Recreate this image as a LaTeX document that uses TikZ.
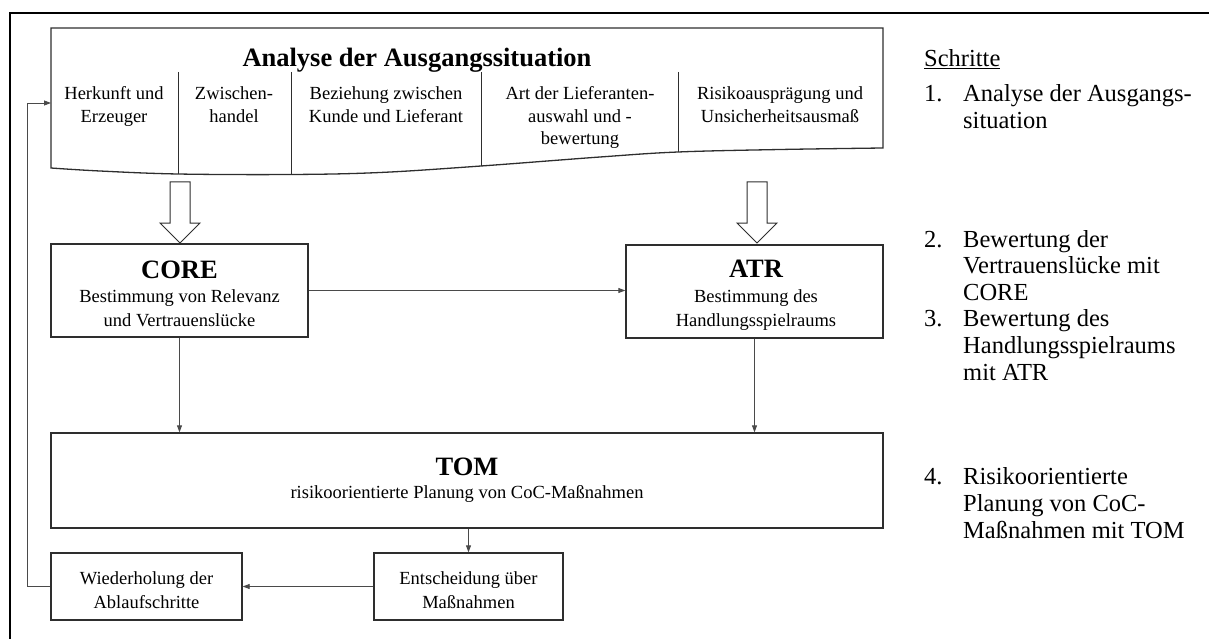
\documentclass[tikz,border=0pt]{standalone}
\usepackage{fontspec}
\setmainfont{Liberation Serif}
\usetikzlibrary{arrows.meta}
\definecolor{boxgray}{HTML}{2E2E2E}
\definecolor{linegray}{HTML}{4A4A4A}
\begin{document}
\begin{tikzpicture}[x=1pt,y=-1pt,
  box/.style={draw=boxgray, line width=1.3pt, fill=white, inner sep=0pt},
  docline/.style={draw=boxgray, line width=1.3pt},
  divider/.style={draw=boxgray, line width=1pt},
  link/.style={draw=linegray, line width=0.8pt, -{Triangle[length=7pt,width=5pt]}},
  blockarrow/.style={draw=boxgray, line width=1pt, fill=white},
  ttl/.style={font=\fontsize{26.5}{30}\selectfont\bfseries, inner sep=0pt, anchor=base},
  sub/.style={font=\fontsize{18.5}{22.5}\selectfont, inner sep=0pt, anchor=base},
  stepnum/.style={font=\fontsize{24.5}{27}\selectfont, inner sep=0pt, anchor=base west},
]
\useasboundingbox (0,0) rectangle (1209,639);

% outer frame
\draw[line width=2.5pt] (10,645) -- (10,13) -- (1215,13);

% document shape: analysis of the initial situation
\draw[docline] (51,168) -- (51,28) -- (883,28) --
  plot[smooth, tension=0.6] coordinates {(883,148) (780,149.5) (678,152) (600,157)
    (481,166) (380,172.5) (291,174.5) (178,174) (100,171) (51,168)} -- cycle;
\coordinate (docw) at (51,103);
\draw[divider] (178,72) -- (178,174);
\draw[divider] (291,72) -- (291,174.5);
\draw[divider] (481,72) -- (481,166);
\draw[divider] (678,72) -- (678,152);

\node[ttl] (t0) at (417,67) {Analyse der Ausgangssituation};
\node[sub] (c1a) at (114,100) {Herkunft und};
\node[sub] (c1b) at (114,122.5) {Erzeuger};
\node[sub] (c2a) at (234,100) {Zwischen-};
\node[sub] (c2b) at (234,122.5) {handel};
\node[sub] (c3a) at (386,100) {Beziehung zwischen};
\node[sub] (c3b) at (386,122.5) {Kunde und Lieferant};
\node[sub] (c4a) at (580,100) {Art der Lieferanten-};
\node[sub] (c4b) at (580,122.5) {auswahl und -};
\node[sub] (c4c) at (580,145) {bewertung};
\node[sub] (c5a) at (780,100) {Risikoausprägung und};
\node[sub] (c5b) at (780,122.5) {Unsicherheitsausmaß};

% block arrows into CORE and ATR
\draw[blockarrow] (170,182) -- (190,182) -- (190,223) -- (200,223) -- (180,243) -- (160,223) -- (170,223) -- cycle;
\draw[blockarrow] (747,182) -- (767,182) -- (767,223) -- (777,223) -- (757,243) -- (737,223) -- (747,223) -- cycle;

% CORE and ATR
\node[box, minimum width=257pt, minimum height=93pt] (core) at (179.5,290.5) {};
\node[ttl] at (179.5,278) {CORE};
\node[sub] at (179.5,302) {Bestimmung von Relevanz};
\node[sub] at (179.5,326) {und Vertrauenslücke};

\node[box, minimum width=257pt, minimum height=93pt] (atr) at (754.5,291.5) {};
\node[ttl] at (756,277) {ATR};
\node[sub] at (756,302) {Bestimmung des};
\node[sub] at (756,326) {Handlungsspielraums};

% TOM
\node[box, minimum width=832pt, minimum height=95pt] (tom) at (467,480.5) {};
\node[ttl] at (467,475) {TOM};
\node[sub] at (467,498) {risikoorientierte Planung von CoC-Maßnahmen};

% decision and repetition
\node[box, minimum width=189pt, minimum height=67pt] (ent) at (468.5,586.5) {};
\node[sub] at (468.5,584) {Entscheidung über};
\node[sub] at (468.5,608) {Maßnahmen};
\node[box, minimum width=191pt, minimum height=67pt] (wied) at (146.5,586.5) {};
\node[sub] at (146.5,584) {Wiederholung der};
\node[sub] at (146.5,608) {Ablaufschritte};

% connectors
\coordinate (loopx) at (27,0);
\draw[link] (core.east) -- (core.east -| atr.west);
\draw[link] (core.south) -- (core.south |- tom.north);
\draw[link] (atr.south) -- (atr.south |- tom.north);
\draw[link] (ent.north |- tom.south) -- (ent.north);
\draw[link] (ent.west) -- (wied.east);
\draw[link] (wied.west) -| (loopx |- docw) -- (docw);

% list of steps
\node[stepnum] at (924,67) {\underline{Schritte}};
\node[stepnum] at (924,102) {1.};
\node[stepnum] at (963,102) {Analyse der Ausgangs-};
\node[stepnum] at (963,128.6) {situation};
\node[stepnum] at (924,247) {2.};
\node[stepnum] at (963,247) {Bewertung der};
\node[stepnum] at (963,273.6) {Vertrauenslücke mit};
\node[stepnum] at (963,300.2) {CORE};
\node[stepnum] at (924,326.8) {3.};
\node[stepnum] at (963,326.8) {Bewertung des};
\node[stepnum] at (963,353.4) {Handlungsspielraums};
\node[stepnum] at (963,380) {mit ATR};
\node[stepnum] at (924,484) {4.};
\node[stepnum] at (963,484) {Risikoorientierte};
\node[stepnum] at (963,511) {Planung von CoC-};
\node[stepnum] at (963,538) {Maßnahmen mit TOM};
\end{tikzpicture}
\end{document}
